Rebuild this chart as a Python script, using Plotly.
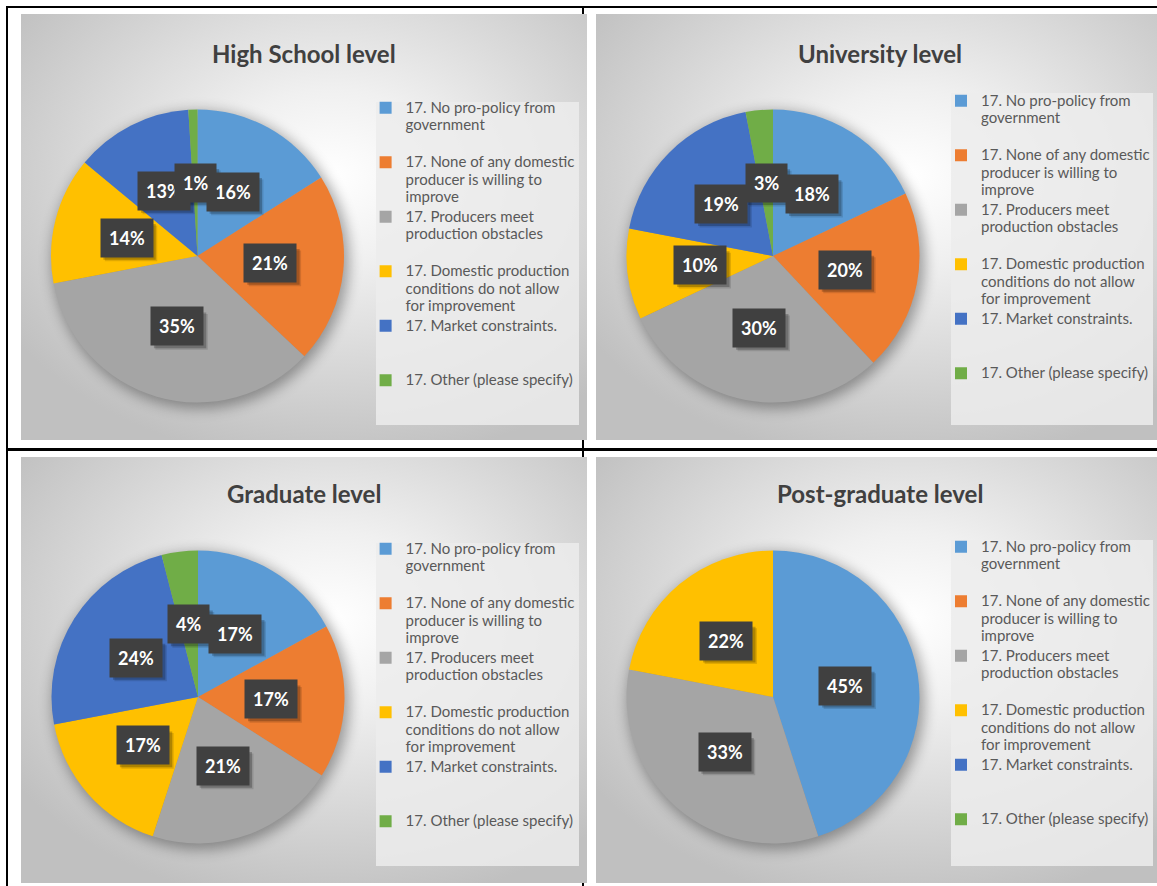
import math
import base64
import plotly.graph_objects as go

W, H = 1157, 886

# ---------------- data ----------------
categories = [
    "17. No pro-policy from government",
    "17. None of any domestic producer is willing to improve",
    "17. Producers meet production obstacles",
    "17. Domestic production conditions do not allow for improvement",
    "17. Market constraints.",
    "17. Other (please specify)",
]
legend_lines = [
    ["17. No pro-policy from", "government", " "],
    ["17. None of any domestic", "producer is willing to", "improve"],
    ["17. Producers meet", "production obstacles", " "],
    ["17. Domestic production", "conditions do not allow", "for improvement"],
    ["17. Market constraints.", " ", " "],
    ["17. Other (please specify)", " ", " "],
]
colors = ["#5B9BD5", "#ED7D31", "#A5A5A5", "#FFC000", "#4472C4", "#70AD47"]

titles = ["High School level", "University level", "Graduate level", "Post-graduate level"]
high_school = [16, 21, 35, 14, 13, 1]
university = [18, 20, 30, 10, 19, 3]
graduate = [17, 17, 21, 17, 24, 4]
post_graduate = [45, 0, 33, 22, 0, 0]
series = [high_school, university, graduate, post_graduate]

# ---------------- layout geometry (pixels) ----------------
panels = [(21, 14, 566, 426), (596, 14, 567, 426), (21, 457, 566, 426), (596, 457, 567, 426)]
pie_centers = [(197.5, 256), (773, 256), (198, 697), (773, 697)]
pie_r = 146.5
legend_boxes = [(376, 102, 579, 425), (951, 93, 1153, 425), (376, 543, 579, 866), (951, 540, 1153, 866)]
legend_text_x = [405.6, 981, 405.6, 981]
legend_first_baseline = [113, 106, 554, 552]
title_y = [53, 53, 493, 493]
label_font = 18
label_pad = 8

# ---------------- background svg (panels, table lines, pie shadows) ----------------
svg = [f'<svg xmlns="http://www.w3.org/2000/svg" width="{W}" height="{H}" viewBox="0 0 {W} {H}">',
       '<defs><radialGradient id="g" cx="0.55" cy="0.38" r="0.68">'
       '<stop offset="0" stop-color="#ffffff"/><stop offset="0.3" stop-color="#f0f0f0"/>'
       '<stop offset="1" stop-color="#c0c0c0"/></radialGradient>'
       '<filter id="b" x="-30%" y="-30%" width="160%" height="160%"><feGaussianBlur stdDeviation="7"/></filter>'
       '</defs>',
       f'<rect width="{W}" height="{H}" fill="#ffffff"/>',
       f'<rect x="6" y="6" width="{W-6}" height="2" fill="#000"/>',
       f'<rect x="6" y="6" width="2" height="{H-6}" fill="#000"/>',
       f'<rect x="582" y="6" width="2" height="{H-6}" fill="#000"/>',
       f'<rect x="6" y="448" width="{W-6}" height="3" fill="#000"/>']
for (px, py, pw, ph) in panels:
    svg.append(f'<rect x="{px}" y="{py}" width="{pw}" height="{ph}" fill="url(#g)"/>')
for (cx, cy) in pie_centers:
    svg.append(f'<circle cx="{cx+3}" cy="{cy+4}" r="{pie_r+2}" fill="#000" opacity="0.35" filter="url(#b)"/>')
svg.append('</svg>')
bg_uri = "data:image/svg+xml;base64," + base64.b64encode("".join(svg).encode()).decode()

fig = go.Figure()
fig.add_layout_image(source=bg_uri, xref="paper", yref="paper", x=0, y=1, sizex=1, sizey=1,
                     xanchor="left", yanchor="top", sizing="stretch", layer="below")

legend_font_size = 13.2
line_h = legend_font_size * 1.3

shapes = []
annotations = []
legend_names = ["legend", "legend2", "legend3", "legend4"]
layout_legends = {}

for k in range(4):
    cx, cy = pie_centers[k]
    vals = series[k]
    # a tiny per-chart font-size difference keeps each chart's legend entries separate
    fs = 15 + 0.01 * k
    names = ["<br>".join(f'<span style="font-size:{fs}px">{ln}</span>' for ln in lines)
             for lines in legend_lines]
    fig.add_trace(go.Pie(
        labels=names, values=vals, sort=False, direction="clockwise", rotation=0,
        marker=dict(colors=colors, line=dict(width=0)),
        textinfo="none", hoverinfo="percent", showlegend=True,
        domain=dict(x=[(cx - pie_r) / W, (cx + pie_r) / W],
                    y=[1 - (cy + pie_r) / H, 1 - (cy - pie_r) / H]),
        legend=legend_names[k],
    ))
    # legend box
    x0, y0, x1, y1 = legend_boxes[k]
    shapes.append(dict(type="rect", xref="paper", yref="paper", layer="below",
                       x0=x0 / W, x1=x1 / W, y0=1 - y1 / H, y1=1 - y0 / H,
                       fillcolor="rgba(236,236,236,0.85)", line=dict(width=0)))
    item_h = 3 * line_h + 3
    top = legend_first_baseline[k] - (5 + item_h / 2 - line_h * 0.7)
    layout_legends[legend_names[k]] = dict(
        x=(legend_text_x[k] - 40) / W, y=1 - top / H, xanchor="left", yanchor="top",
        bgcolor="rgba(0,0,0,0)", borderwidth=0, valign="top", tracegroupgap=0,
        font=dict(family="Lato", size=legend_font_size, color="#595959"),
        itemclick=False, itemdoubleclick=False,
    )
    # title
    px, py, pw, ph = panels[k]
    annotations.append(dict(text=f"<b>{titles[k]}</b>", xref="paper", yref="paper",
                            x=(px + pw / 2) / W, y=1 - title_y[k] / H,
                            xanchor="center", yanchor="middle", showarrow=False,
                            font=dict(family="Lato", size=24, color="#404040")))
    # data labels (dark boxes with a soft drop shadow)
    total = sum(vals)
    cum = 0
    for v in vals:
        if v > 0:
            th = 2 * math.pi * (cum + v / 2) / total
            lx = cx + 0.5 * pie_r * math.sin(th)
            ly = cy - 0.5 * pie_r * math.cos(th)
            txt = f"{v}%"
            bw = 0.58 * label_font * (len(txt) - 1) + 0.86 * label_font + 2 * label_pad
            bh = 1.1 * label_font + 2 * label_pad
            for dx, dy, op in [(3, 4, 0.22), (4.5, 5.5, 0.12)]:
                shapes.append(dict(type="rect", xref="paper", yref="paper", layer="above",
                                   x0=(lx - bw / 2 + dx) / W, x1=(lx + bw / 2 + dx) / W,
                                   y0=1 - (ly + bh / 2 + dy) / H, y1=1 - (ly - bh / 2 + dy) / H,
                                   fillcolor=f"rgba(0,0,0,{op})", line=dict(width=0)))
            annotations.append(dict(text=f"<b>{txt}</b>", xref="paper", yref="paper",
                                    x=lx / W, y=1 - ly / H, xanchor="center", yanchor="middle",
                                    showarrow=False, borderpad=label_pad, bgcolor="#404040",
                                    font=dict(family="Lato", size=label_font, color="#ffffff")))
        cum += v

fig.update_layout(width=W, height=H, margin=dict(l=0, r=0, t=0, b=0),
                  paper_bgcolor="#ffffff", plot_bgcolor="#ffffff",
                  shapes=shapes, annotations=annotations, **layout_legends)

fig.write_html("out.html", config={"displayModeBar": False},
               post_script="document.body.style.margin='0';document.body.style.overflow='hidden';")
